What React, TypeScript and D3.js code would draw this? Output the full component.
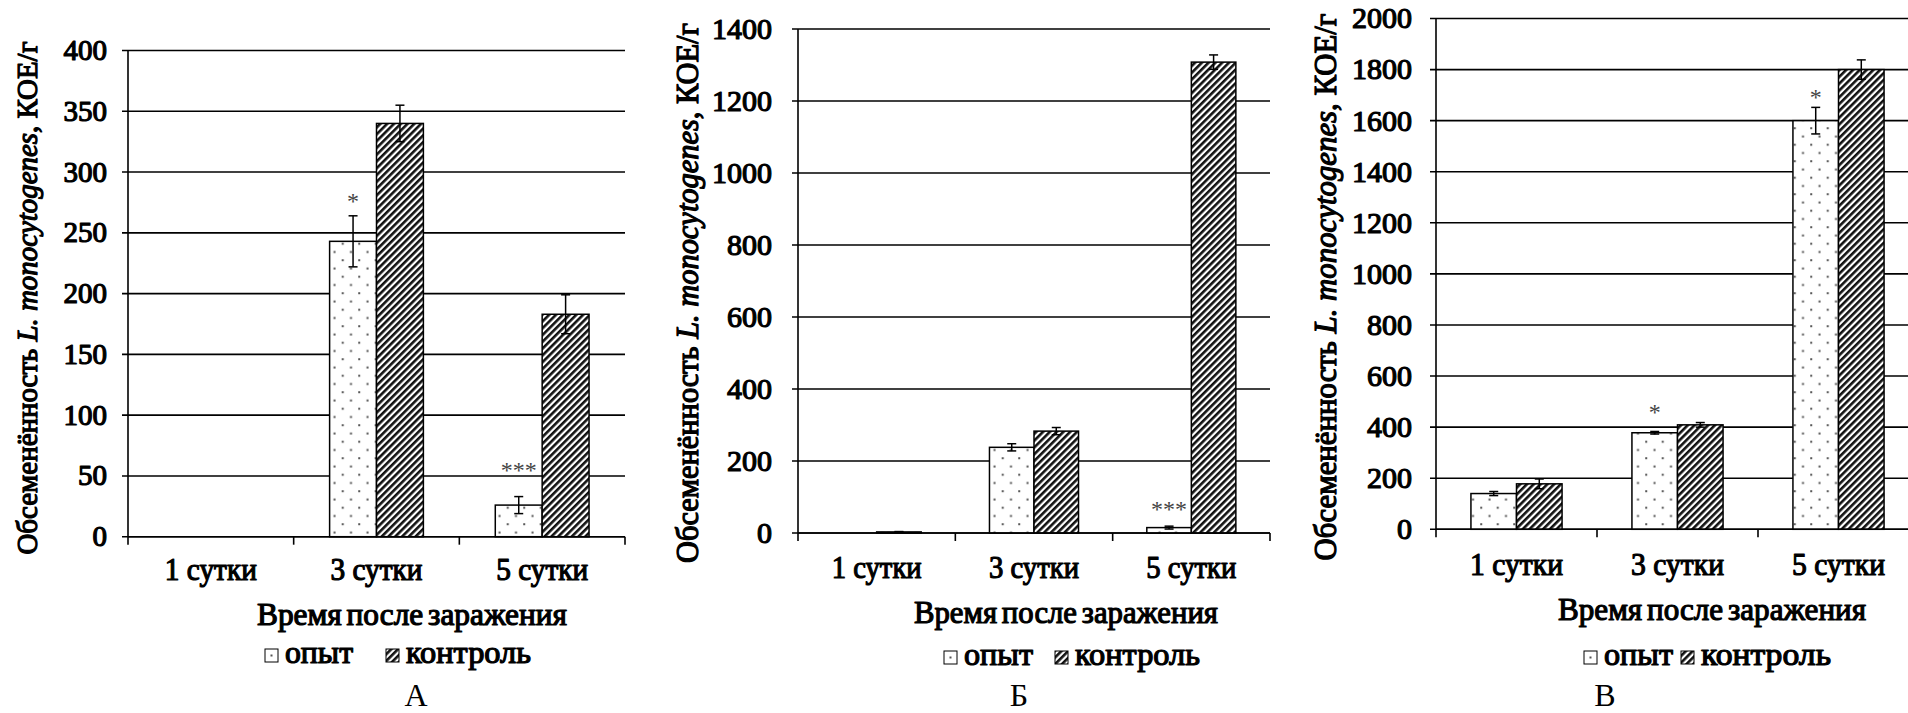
import React from "react";
import * as d3 from "d3";

// Categories and series shared by all three panels
const categories = ["1 сутки", "3 сутки", "5 сутки"];
const seriesNames = ["опыт", "контроль"];
const xTitle = "Время после заражения";
const panelLetters = ["А", "Б", "В"];

// Panel А
const opytA = [0, 243, 26];
const opytErrA = [0, 21, 7];
const controlA = [0, 340, 183];
const controlErrA = [0, 15, 16];
const marksA = ["", "*", "***"];
const ticksA = [0, 50, 100, 150, 200, 250, 300, 350, 400];

// Panel Б
const opytB = [0, 238, 15];
const opytErrB = [0, 10, 4];
const controlB = [3, 283, 1308];
const controlErrB = [1, 10, 20];
const marksB = ["", "", "***"];
const ticksB = [0, 200, 400, 600, 800, 1000, 1200, 1400];

// Panel В
const opytC = [140, 378, 1600];
const opytErrC = [8, 5, 52];
const controlC = [178, 409, 1800];
const controlErrC = [19, 9, 38];
const marksC = ["", "*", "*"];
const ticksC = [0, 200, 400, 600, 800, 1000, 1200, 1400, 1600, 1800, 2000];

const panels = [
  { opyt: opytA, opytErr: opytErrA, control: controlA, controlErr: controlErrA, marks: marksA, ticks: ticksA },
  { opyt: opytB, opytErr: opytErrB, control: controlB, controlErr: controlErrB, marks: marksB, ticks: ticksB },
  { opyt: opytC, opytErr: opytErrC, control: controlC, controlErr: controlErrC, marks: marksC, ticks: ticksC },
];

// Geometry of each panel on the page
const layouts = [
  {
    left: 128, right: 625, top: 50.5, bottom: 536.7, tickFont: 29, font: 31,
    yLabelX: 26, yLabelY: 298, yLabelLen: 513, tickRight: 107,
    catBaseline: 580, catLen: 92, titleX: 412, titleLen: 310, titleBaseline: 625,
    legend: [265, 386], legendLen: [68, 125], legendBaseline: 663,
    letterX: 416, letterBaseline: 706,
    markGap: [0, 19, 31],
  },
  {
    left: 798, right: 1270, top: 29, bottom: 533, tickFont: 30, font: 32,
    yLabelX: 687, yLabelY: 293, yLabelLen: 540, tickRight: 772,
    catBaseline: 578, catLen: 90, titleX: 1066, titleLen: 304, titleBaseline: 623,
    legend: [944, 1055], legendLen: [69, 125], legendBaseline: 665,
    letterX: 1019, letterBaseline: 706,
    markGap: [0, 0, 21],
  },
  {
    left: 1436, right: 1919, top: 18.5, bottom: 529.3, tickFont: 30, font: 32,
    yLabelX: 1325, yLabelY: 287, yLabelLen: 547, tickRight: 1412,
    catBaseline: 575, catLen: 93, titleX: 1712, titleLen: 308, titleBaseline: 620,
    legend: [1584, 1681], legendLen: [69, 130], legendBaseline: 665,
    letterX: 1605, letterBaseline: 706,
    markGap: [0, 23, 14],
  },
];

const SERIF = "'Liberation Serif', 'Times New Roman', serif";
const INK = "#000";

// heavy serif text: the regular face with an outline stroke
const heavyText = {
  fontFamily: SERIF,
  fill: INK,
  stroke: INK,
  strokeWidth: 1.2,
  strokeLinejoin: "round" as const,
};

function Panel({ idx }: { idx: number }) {
  const d = panels[idx];
  const L = layouts[idx];
  const yMax = d.ticks[d.ticks.length - 1];
  const y = d3.scaleLinear().domain([0, yMax]).range([L.bottom, L.top]);
  const x = d3.scaleBand<string>().domain(categories).range([L.left, L.right]).padding(0);
  const bw = x.bandwidth() * 0.283;
  const inner = d3.scaleBand<string>().domain(seriesNames).range([-bw, bw]).padding(0);
  const fills = ["url(#dots)", "url(#hatch)"];
  const values = [d.opyt, d.control];
  const errs = [d.opytErr, d.controlErr];
  const boundaries = [...categories.map((c) => x(c) as number), L.right];
  const center = (c: string, s: string) =>
    (x(c) as number) + x.bandwidth() / 2 + (inner(s) as number) + inner.bandwidth() / 2;

  return (
    <g>
      {/* horizontal gridlines with outward ticks */}
      {d.ticks.map((t) => (
        <line key={"g" + t} x1={L.left - 6} x2={L.right} y1={y(t)} y2={y(t)} stroke={INK} strokeWidth={1.6} />
      ))}
      {/* tick labels */}
      {d.ticks.map((t) => (
        <text key={"tl" + t} x={L.tickRight} y={y(t) + L.tickFont * 0.33} textAnchor="end" fontSize={L.tickFont} {...heavyText}>
          {t}
        </text>
      ))}
      {/* bars */}
      {categories.map((c, ci) =>
        seriesNames.map((s, si) => {
          const v = values[si][ci];
          if (!v) return null;
          return (
            <rect
              key={c + s}
              x={center(c, s) - inner.bandwidth() / 2}
              y={y(v)}
              width={inner.bandwidth()}
              height={y(0) - y(v)}
              fill={fills[si]}
              stroke={INK}
              strokeWidth={1.5}
            />
          );
        })
      )}
      {/* error bars */}
      {categories.map((c, ci) =>
        seriesNames.map((s, si) => {
          const v = values[si][ci];
          const e = errs[si][ci];
          if (!v || !e) return null;
          const cx = center(c, s);
          const y1 = y(v + e);
          const y2 = y(Math.max(0, v - e));
          return (
            <g key={"e" + c + s} stroke={INK} strokeWidth={1.5}>
              <line x1={cx} x2={cx} y1={y1} y2={y2} />
              <line x1={cx - 4.5} x2={cx + 4.5} y1={y1} y2={y1} />
              <line x1={cx - 4.5} x2={cx + 4.5} y1={y2} y2={y2} />
            </g>
          );
        })
      )}
      {/* significance marks above the опыт bars */}
      {categories.map((c, ci) => {
        const m = d.marks[ci];
        if (!m) return null;
        const top = y(d.opyt[ci] + d.opytErr[ci]);
        const cy = top - L.markGap[ci];
        return (
          <text key={"m" + c} x={center(c, "опыт")} y={cy + 12} textAnchor="middle" fontFamily={SERIF} fontSize={24} fill="#444">
            {m}
          </text>
        );
      })}
      {/* axes */}
      <line x1={L.left} x2={L.left} y1={L.top} y2={L.bottom} stroke={INK} strokeWidth={1.6} />
      <line x1={L.left} x2={L.right} y1={L.bottom} y2={L.bottom} stroke={INK} strokeWidth={1.6} />
      {boundaries.map((bxv, i) => (
        <line key={"xt" + i} x1={bxv} x2={bxv} y1={L.bottom} y2={L.bottom + 8} stroke={INK} strokeWidth={1.6} />
      ))}
      {/* category labels */}
      {categories.map((c) => (
        <text
          key={"c" + c}
          x={(x(c) as number) + x.bandwidth() / 2}
          y={L.catBaseline}
          textAnchor="middle"
          fontSize={L.font}
          textLength={L.catLen}
          lengthAdjust="spacingAndGlyphs"
          {...heavyText}
        >
          {c}
        </text>
      ))}
      {/* y axis title */}
      <text
        transform={`translate(${L.yLabelX},${L.yLabelY}) rotate(-90)`}
        textAnchor="middle"
        dy="0.35em"
        fontSize={L.font - 1}
        textLength={L.yLabelLen}
        lengthAdjust="spacingAndGlyphs"
        {...heavyText}
      >
        Обсеменённость <tspan fontStyle="italic">L. monocytogenes</tspan>, КОЕ/г
      </text>
      {/* x axis title */}
      <text
        x={L.titleX}
        y={L.titleBaseline}
        textAnchor="middle"
        fontSize={L.font}
        textLength={L.titleLen}
        lengthAdjust="spacingAndGlyphs"
        wordSpacing={-3}
        {...heavyText}
      >
        {xTitle}
      </text>
      {/* legend */}
      {seriesNames.map((s, si) => (
        <g key={"lg" + s}>
          <rect
            x={L.legend[si]}
            y={L.legendBaseline - 14}
            width={13}
            height={13}
            fill={si === 0 ? "url(#legendDot)" : "url(#hatch)"}
            stroke={INK}
            strokeWidth={1}
          />
          <text
            x={L.legend[si] + 20}
            y={L.legendBaseline}
            fontSize={L.font}
            textLength={L.legendLen[si]}
            lengthAdjust="spacingAndGlyphs"
            {...heavyText}
          >
            {s}
          </text>
        </g>
      ))}
      {/* panel letter */}
      <text x={L.letterX} y={L.letterBaseline} textAnchor="middle" fontFamily={SERIF} fontSize={32} fill={INK}>
        {panelLetters[idx]}
      </text>
    </g>
  );
}

export default function App() {
  return (
    <svg
      width={1908}
      height={713}
      viewBox="0 0 1908 713"
      style={{ position: "fixed", left: 0, top: 0, background: "#fff" }}
    >
      <defs>
        <pattern id="dots" patternUnits="userSpaceOnUse" width={16.5} height={16.5}>
          <rect width={16.5} height={16.5} fill="#fff" />
          <rect x={3.5} y={3.5} width={2} height={2} fill="#555" />
          <rect x={11.75} y={11.75} width={2} height={2} fill="#555" />
        </pattern>
        <pattern id="legendDot" patternUnits="objectBoundingBox" width={1} height={1}>
          <rect width={13} height={13} fill="#fff" />
          <rect x={5.5} y={5.5} width={2} height={2} fill="#555" />
        </pattern>
        <pattern id="hatch" patternUnits="userSpaceOnUse" width={4.8} height={4.8} patternTransform="rotate(45)">
          <rect width={4.8} height={4.8} fill="#fff" />
          <rect width={2.6} height={4.8} fill="#111" />
        </pattern>
      </defs>
      <rect width={1908} height={713} fill="#fff" />
      {panels.map((_, i) => (
        <Panel key={i} idx={i} />
      ))}
    </svg>
  );
}
